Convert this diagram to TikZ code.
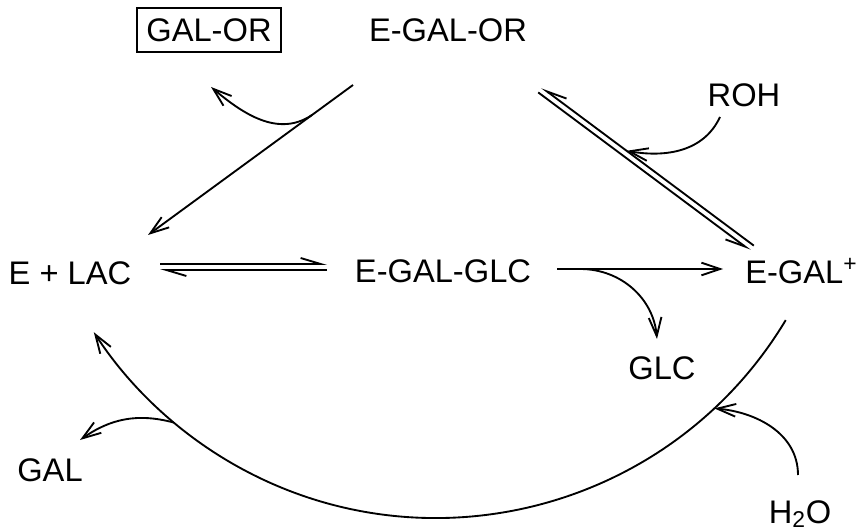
\documentclass[tikz,border=0pt]{standalone}
\usepackage{fontspec}
\setmainfont{Liberation Sans}
\usepackage{tikz}
\usetikzlibrary{arrows.meta,calc}

\begin{document}
\begin{tikzpicture}[x=0.75pt,y=0.75pt]
	 \tikzstyle{species}=[inner sep=0pt,font=\fontsize{24.5}{29}\selectfont]
	 \tikzstyle{reac} = [draw,line width=1.4pt,-{Straight Barb[length=14pt,width=9.5pt]}]
	 \tikzstyle{harp} = [draw,line width=1.4pt,-{Straight Barb[harpoon,length=15pt,width=9pt]}]
	 \tikzstyle{harpsw} = [draw,line width=1.4pt,-{Straight Barb[harpoon,swap,length=15pt,width=9pt]}]
	 \useasboundingbox (0,0) rectangle (858,-531);

	 \node[species,draw,line width=0.8pt,minimum width=108pt,minimum height=33pt] (galor) at (209,-30) {GAL-OR};
	 \node[species,anchor=base] (egalor) at (448,-42) {E-GAL-OR};
	 \node[species,anchor=base] (roh) at (744,-107) {ROH};
	 \node[species,anchor=base] (lac) at (70,-285) {E + LAC};
	 \node[species,anchor=base] (egalglc) at (443,-283) {E-GAL-GLC};
	 \node[species,anchor=base west] (egal) at (745,-284) {E-GAL\textsuperscript{+}};
	 \node[species,anchor=base] (glc) at (662,-379) {GLC};
	 \node[species,anchor=base] (gal) at (50,-481) {GAL};
	 \node[species,anchor=base] (water) at (800,-523) {H\textsubscript{2}O};

	 \coordinate (a1) at (353,-85);
	 \coordinate (a2) at (148,-235);
	 \coordinate (h1) at (160,-264);
	 \coordinate (h2) at (327,-264);
	 \coordinate (h3) at (327,-270);
	 \coordinate (h4) at (160,-270);
	 \coordinate (du1) at (541.8,-87.6);
	 \coordinate (du2) at (753.8,-245.6);
	 \coordinate (dl1) at (538.2,-92.4);
	 \coordinate (dl2) at (750.2,-250.4);
	 \coordinate (m1) at (557,-269);
	 \coordinate (m2) at (723,-269);
	 \coordinate (arcc) at (436,-110);
	 \coordinate (arcs) at ($(arcc)+(-31:306pt)$);
	 \coordinate (galtip) at (211,-87);
	 \coordinate (rohs) at (720,-117);
	 \coordinate (glctip) at (657,-339);
	 \coordinate (galend) at (80,-440);
	 \coordinate (waters) at (798,-475);

	 \draw[reac] (a1) -- (a2);
	 \draw[reac] ($(a1)!0.2!(a2)$) to[out=214,in=-40] (galtip);

	 \draw[harp] (h1) -- (h2);
	 \draw[harp] (h3) -- (h4);

	 \draw[harpsw] (du2) -- (du1);
	 \draw[harpsw] (dl1) -- (dl2);
	 \draw[reac] (rohs) to[out=-115,in=-10] ($(du1)!0.4!(du2)$);

	 \draw[reac] (m1) -- (m2);
	 \draw[reac] ($(m1)!0.14!(m2)$) to[out=0,in=95] (glctip);

	 \draw[reac] (arcs) arc[start angle=-31,end angle=-147,radius=306pt];
	 \draw[reac] ($(arcc)+(-130:306pt)$) to[out=165,in=35] (galend);
	 \draw[reac] (waters) to[out=90,in=-5] ($(arcc)+(-47:306pt)$);
\end{tikzpicture}
\end{document}
